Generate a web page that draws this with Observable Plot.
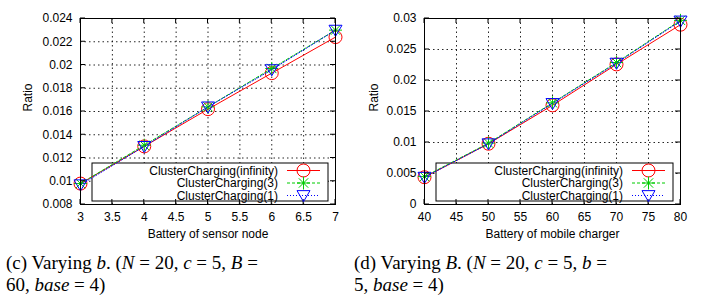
<!DOCTYPE html>
<html><head><meta charset="utf-8">
<script src="https://cdn.jsdelivr.net/npm/d3@7"></script>
<script src="https://cdn.jsdelivr.net/npm/@observablehq/plot@0.6"></script>
<style>
body{margin:0;background:#fff;width:702px;height:308px;overflow:hidden;position:relative;}
.panel{position:absolute;top:0;width:351px;}
.cap{position:absolute;font-family:"Liberation Serif","DejaVu Serif",serif;font-size:19px;line-height:22px;color:#000;white-space:nowrap;}
svg text{font-family:"Liberation Sans",Arial,sans-serif;}
</style>
</head><body>
<div id="pc" class="panel" style="left:0"></div>
<div id="pd" class="panel" style="left:351px"></div>
<div class="cap" style="left:6px;top:252px">(c) Varying <i>b</i>. (<i>N</i> = 20, <i>c</i> = 5, <i>B</i> =<br>60, <i>base</i> = 4)</div>
<div class="cap" style="left:354px;top:252px">(d) Varying <i>B</i>. (<i>N</i> = 20, <i>c</i> = 5, <i>b</i> =<br>5, <i>base</i> = 4)</div>
<script>
// ---- data ----
const seriesNames = ["ClusterCharging(infinity)", "ClusterCharging(3)", "ClusterCharging(1)"];

const xC = [3, 4, 5, 6, 7];
const infC = [0.0098, 0.0130, 0.0162, 0.0193, 0.0224];
const c3C  = [0.0098, 0.0131, 0.0164, 0.0197, 0.0230];
const c1C  = [0.0097, 0.0130, 0.0164, 0.0196, 0.0230];
const xTicksC = [3, 3.5, 4, 4.5, 5, 5.5, 6, 6.5, 7];
const yTicksC = [0.008, 0.01, 0.012, 0.014, 0.016, 0.018, 0.02, 0.022, 0.024];
const xLabelC = "Battery of sensor node";

const xD = [40, 50, 60, 70, 80];
const infD = [0.0044, 0.0098, 0.0160, 0.0226, 0.0290];
const c3D  = [0.0045, 0.0099, 0.0164, 0.0229, 0.0297];
const c1D  = [0.0044, 0.0098, 0.0163, 0.0228, 0.0296];
const xTicksD = [40, 45, 50, 55, 60, 65, 70, 75, 80];
const yTicksD = [0, 0.005, 0.01, 0.015, 0.02, 0.025, 0.03];
const xLabelD = "Battery of mobile charger";

const yLabel = "Ratio";

// ---- styles ----
const colors = ["#ff0000", "#00cc00", "#0000ff"];
const dashes = [null, "3,2", "1,2"];
const triDown = {draw(ctx, size){ const r = Math.sqrt(size/Math.PI);
  ctx.moveTo(-r, -0.75*r); ctx.lineTo(r, -0.75*r); ctx.lineTo(0, 0.95*r); ctx.closePath(); }};
const starSym = {draw(ctx, size){ const r = Math.sqrt(size/Math.PI); const d = r*0.72;
  ctx.moveTo(-r,0); ctx.lineTo(r,0); ctx.moveTo(0,-r); ctx.lineTo(0,r);
  ctx.moveTo(-d,-d); ctx.lineTo(d,d); ctx.moveTo(-d,d); ctx.lineTo(d,-d); }};
const symbols = ["circle", starSym, triDown];
const radii = [6.5, 6.5, 6.5];
const fmt = d => String(+d.toFixed(4));

function makeChart(el, xs, ser, xTicks, yTicks, xLabel, m, ylabDx){
  const rows = [];
  ser.forEach((vals, s) => vals.forEach((v, i) => rows.push({s, x: xs[i], y: v})));
  const W = 351, H = 245;
  const marks = [
    Plot.gridX(xTicks, {stroke:"#000", strokeOpacity:0.85, strokeDasharray:"1.5,3"}),
    Plot.gridY(yTicks, {stroke:"#000", strokeOpacity:0.85, strokeDasharray:"1.5,3"}),
    Plot.axisX({ticks: xTicks, tickSize: 0, tickPadding: 8, tickFormat: fmt, label: null, fontSize: 12}),
    Plot.axisY({ticks: yTicks, tickSize: 0, tickPadding: 8, tickFormat: fmt, label: null, fontSize: 12}),
    Plot.text([xLabel], {text: d=>d, frameAnchor:"bottom", dy: 33, fontSize: 12}),
    Plot.text([yLabel], {text: d=>d, frameAnchor:"left", dx: ylabDx, rotate: -90, fontSize: 12})
  ];
  ser.forEach((vals, s) => {
    const d = rows.filter(r => r.s === s);
    marks.push(Plot.line(d, {x:"x", y:"y", stroke: colors[s], strokeWidth: 1, strokeDasharray: dashes[s]}));
    marks.push(Plot.dot(d, {x:"x", y:"y", stroke: colors[s], fill:"none", strokeWidth: 1, symbol: symbols[s], r: radii[s]}));
  });
  marks.push(Plot.frame({stroke:"#000", strokeWidth: 1}));
  const svg = Plot.plot({
    width: W, height: H, marginLeft: m[0], marginRight: m[1], marginTop: m[2], marginBottom: m[3],
    style: {fontFamily: "'Liberation Sans', Arial, sans-serif", fontSize: "12px", color: "#000", background: "#fff"},
    x: {domain: [xTicks[0], xTicks[xTicks.length-1]]},
    y: {domain: [yTicks[0], yTicks[yTicks.length-1]]},
    marks
  });
  const sx = svg.scale("x"), sy = svg.scale("y");
  const x0 = m[0], x1 = W - m[1], y0 = m[2], y1 = H - m[3];
  // opaque key box below data lines, above grid
  const bx0 = x0 + 12, bx1 = x1 - 7, by0 = y1 - 41, by1 = y1 - 3;
  const firstLine = svg.querySelector('g[aria-label="line"]');
  const box = document.createElementNS("http://www.w3.org/2000/svg", "rect");
  d3.select(box).attr("x", bx0).attr("y", by0).attr("width", bx1-bx0).attr("height", by1-by0)
    .attr("fill", "#fff").attr("stroke", "#000").attr("stroke-width", 1);
  svg.insertBefore(box, firstLine);
  // inward tick marks on all four sides
  const g = d3.select(svg).append("g").attr("stroke", "#000").attr("stroke-width", 1);
  xTicks.forEach(t => { const px = sx.apply(t);
    g.append("line").attr("x1", px).attr("x2", px).attr("y1", y1).attr("y2", y1-5);
    g.append("line").attr("x1", px).attr("x2", px).attr("y1", y0).attr("y2", y0+5); });
  yTicks.forEach(t => { const py = sy.apply(t);
    g.append("line").attr("y1", py).attr("y2", py).attr("x1", x0).attr("x2", x0+5);
    g.append("line").attr("y1", py).attr("y2", py).attr("x1", x1).attr("x2", x1-5); });
  // key entries
  const lg = d3.select(svg).append("g");
  const textEnd = bx1 - 50, l0 = bx1 - 41, l1 = bx1 - 8, lm = (l0+l1)/2;
  seriesNames.forEach((name, s) => {
    const yy = by0 + 7.5 + s*12.5;
    lg.append("text").attr("x", textEnd).attr("y", yy).attr("dy", "0.35em").attr("text-anchor", "end")
      .attr("font-size", 12).attr("fill", "#000").text(name);
    lg.append("line").attr("x1", l0).attr("x2", l1).attr("y1", yy).attr("y2", yy)
      .attr("stroke", colors[s]).attr("stroke-dasharray", dashes[s]);
    lg.append("path").attr("transform", `translate(${lm},${yy})`)
      .attr("d", d3.symbol().type(typeof symbols[s] === "string" ? d3.symbolCircle : symbols[s]).size(Math.PI*radii[s]*radii[s])())
      .attr("fill", "none").attr("stroke", colors[s]);
  });
  el.appendChild(svg);
}

makeChart(document.getElementById("pc"), xC, [infC, c3C, c1C], xTicksC, yTicksC, xLabelC, [80, 16, 18, 41], -52);
makeChart(document.getElementById("pd"), xD, [infD, c3D, c1D], xTicksD, yTicksD, xLabelD, [73, 22, 18, 41], -50);
</script>
</body></html>
